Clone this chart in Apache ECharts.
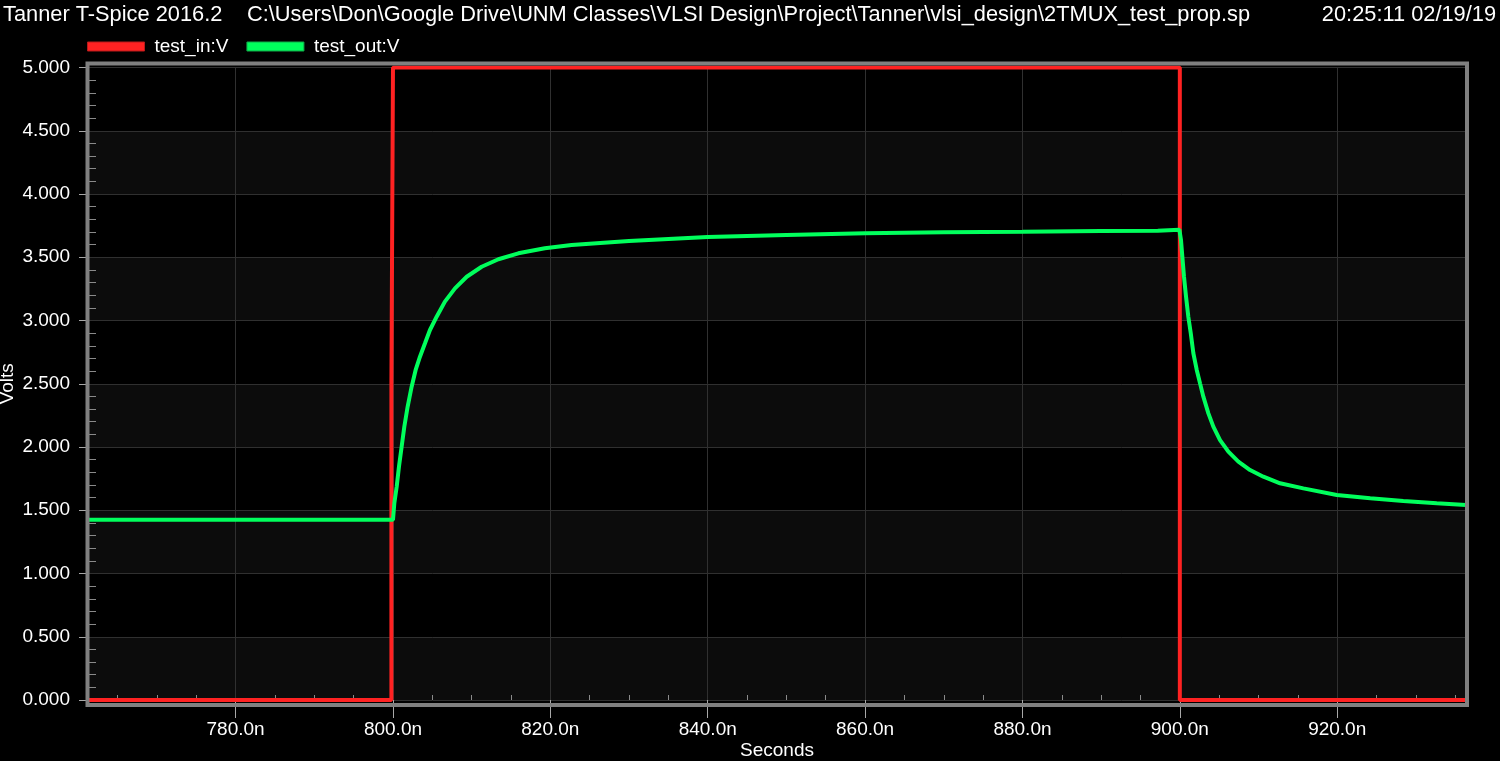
<!DOCTYPE html>
<html>
<head>
<meta charset="utf-8">
<title>2TMUX_test_prop</title>
<script src="https://cdn.jsdelivr.net/npm/echarts@6/dist/echarts.min.js"></script>
<style>
    html, body { margin: 0; padding: 0; background: #000; }
    #chart { width: 1500px; height: 761px; }
</style>
</head>
<body>
<div id="chart"></div>
<script>
// test_in:V (red pulse)
const inTime = [761.24, 799.8, 799.8, 800.0, 800.0, 900.0, 900.0, 936.37]
const inVolts = [0, 0, 2.5, 2.5, 5, 5, 0, 0]

// test_out:V (green)
const outTime = [761.24, 800.0, 800.17, 800.47, 800.76, 801.1, 801.44, 801.86, 802.37, 802.88,
    803.43, 804.07, 804.7, 805.55, 806.6, 807.88, 809.37, 811.27, 813.4, 815.93,
    819.3, 822.7, 830, 840, 850, 860, 870, 880, 890, 897.2,
    897.3, 899.94, 900.15, 900.32, 900.53, 900.79, 901.08, 901.39, 901.72, 902.15,
    902.57, 902.99, 903.63, 904.26, 905.11, 906.17, 907.44, 908.93, 910.62, 912.74,
    915.7, 919.95, 924.2, 928.4, 932.65, 936.37]
const outVolts = [1.425, 1.425, 1.555, 1.686, 1.844, 2.002, 2.16, 2.318, 2.477, 2.609,
    2.714, 2.82, 2.925, 3.03, 3.149, 3.254, 3.346, 3.425, 3.484, 3.531,
    3.571, 3.597, 3.628, 3.66, 3.676, 3.689, 3.697, 3.702, 3.708, 3.71,
    3.718, 3.718, 3.636, 3.504, 3.346, 3.188, 3.03, 2.899, 2.741, 2.609,
    2.503, 2.398, 2.266, 2.161, 2.055, 1.963, 1.884, 1.818, 1.765, 1.713,
    1.673, 1.621, 1.594, 1.573, 1.555, 1.542]

const xTicks = [780, 800, 820, 840, 860, 880, 900, 920]
const xMinorTicks = []
for (let t = 765; t < 936; t += 5) {
    if (t % 20 != 0) xMinorTicks.push(t)
}
const xMin = 761.24
const xMax = 936.37

const font = 'Arial, "Liberation Sans", sans-serif'
const white = '#ffffff'

function zip(a, b) {
    return a.map((v, i) => [v, b[i]])
}

const myChart = echarts.init(document.getElementById('chart'))
myChart.setOption({
    backgroundColor: '#000000',
    animation: false,
    textStyle: { fontFamily: font },
    title: [
        { text: 'Tanner T-Spice 2016.2', left: 3, top: 4 },
        { text: 'C:\\Users\\Don\\Google Drive\\UNM Classes\\VLSI Design\\Project\\Tanner\\vlsi_design\\2TMUX_test_prop.sp', left: 247, top: 4 },
        { text: '20:25:11 02/19/19', right: 4, top: 4 }
    ].map(t => ({
        ...t,
        padding: 0,
        textStyle: { color: white, fontSize: 21.8, fontWeight: 'normal', fontFamily: font }
    })),
    legend: {
        left: 87,
        top: 37,
        padding: 0,
        itemWidth: 57,
        itemHeight: 9,
        itemGap: 18,
        icon: 'rect',
        textStyle: { color: white, fontSize: 19, fontFamily: font, padding: [0, 0, 0, 5] },
        data: [
            { name: 'test_in:V', itemStyle: { color: '#ff2222', borderColor: '#b81a1a', borderWidth: 1 } },
            { name: 'test_out:V', itemStyle: { color: '#00ff5c', borderColor: '#10a848', borderWidth: 1 } }
        ]
    },
    grid: {
        left: 88,
        right: 34,
        top: 67.5,
        bottom: 61,
        containLabel: false,
        outerBoundsMode: 'none'
    },
    xAxis: [
        {
            type: 'value',
            min: xMin,
            max: xMax,
            splitNumber: 9,
            position: 'bottom',
            name: 'Seconds',
            nameLocation: 'middle',
            nameGap: 41,
            nameMoveOverlap: false,
            nameTextStyle: { color: white, fontSize: 19, fontFamily: font },
            axisLine: { show: false },
            axisTick: {
                show: true,
                inside: false,
                length: 18,
                customValues: xTicks,
                lineStyle: { color: '#a8a8a8', width: 1 }
            },
            axisLabel: {
                color: white,
                fontSize: 19,
                margin: 20,
                customValues: xTicks,
                formatter: v => v.toFixed(1) + 'n'
            },
            splitLine: {
                show: true,
                lineStyle: { color: '#303030', width: 1 }
            }
        },
        {
            type: 'value',
            min: xMin,
            max: xMax,
            position: 'bottom',
            axisLine: { show: false },
            axisTick: {
                show: true,
                inside: true,
                length: 5,
                customValues: xMinorTicks,
                lineStyle: { color: '#8a8a8a', width: 1 }
            },
            axisLabel: { show: false },
            splitLine: { show: false }
        }
    ],
    yAxis: [
        {
            type: 'value',
            min: 0,
            max: 5,
            interval: 0.5,
            position: 'left',
            name: 'Volts',
            nameLocation: 'middle',
            nameGap: 71,
            nameMoveOverlap: false,
            nameTextStyle: { color: white, fontSize: 19, fontFamily: font },
            axisLine: { show: false },
            axisTick: {
                show: true,
                length: 9,
                lineStyle: { color: '#a8a8a8', width: 1 }
            },
            axisLabel: {
                color: white,
                fontSize: 19,
                margin: 18,
                formatter: v => v.toFixed(3)
            },
            splitLine: {
                show: true,
                lineStyle: { color: '#303030', width: 1 }
            },
            splitArea: {
                show: true,
                areaStyle: { color: ['#0c0c0c', '#000000'] }
            }
        },
        {
            type: 'value',
            min: 0,
            max: 5,
            interval: 0.5,
            position: 'left',
            axisLine: { show: false },
            axisTick: { show: false, inside: true },
            minorTick: {
                show: true,
                splitNumber: 5,
                length: 8,
                lineStyle: { color: '#8a8a8a', width: 1 }
            },
            axisLabel: { show: false },
            splitLine: { show: false }
        }
    ],
    graphic: [
        {
            type: 'rect',
            z: 100,
            silent: true,
            shape: { x: 87.5, y: 63.5, width: 1379.5, height: 641.5 },
            style: { fill: null, stroke: '#808080', lineWidth: 4 }
        }
    ],
    series: [
        {
            name: 'test_in:V',
            type: 'line',
            data: zip(inTime, inVolts),
            showSymbol: false,
            lineStyle: { color: '#ff2222', width: 4 },
            itemStyle: { color: '#ff2222' },
            z: 3
        },
        {
            name: 'test_out:V',
            type: 'line',
            data: zip(outTime, outVolts),
            showSymbol: false,
            lineStyle: { color: '#00ff5c', width: 4 },
            itemStyle: { color: '#00ff5c' },
            z: 4
        }
    ]
})
</script>
</body>
</html>
